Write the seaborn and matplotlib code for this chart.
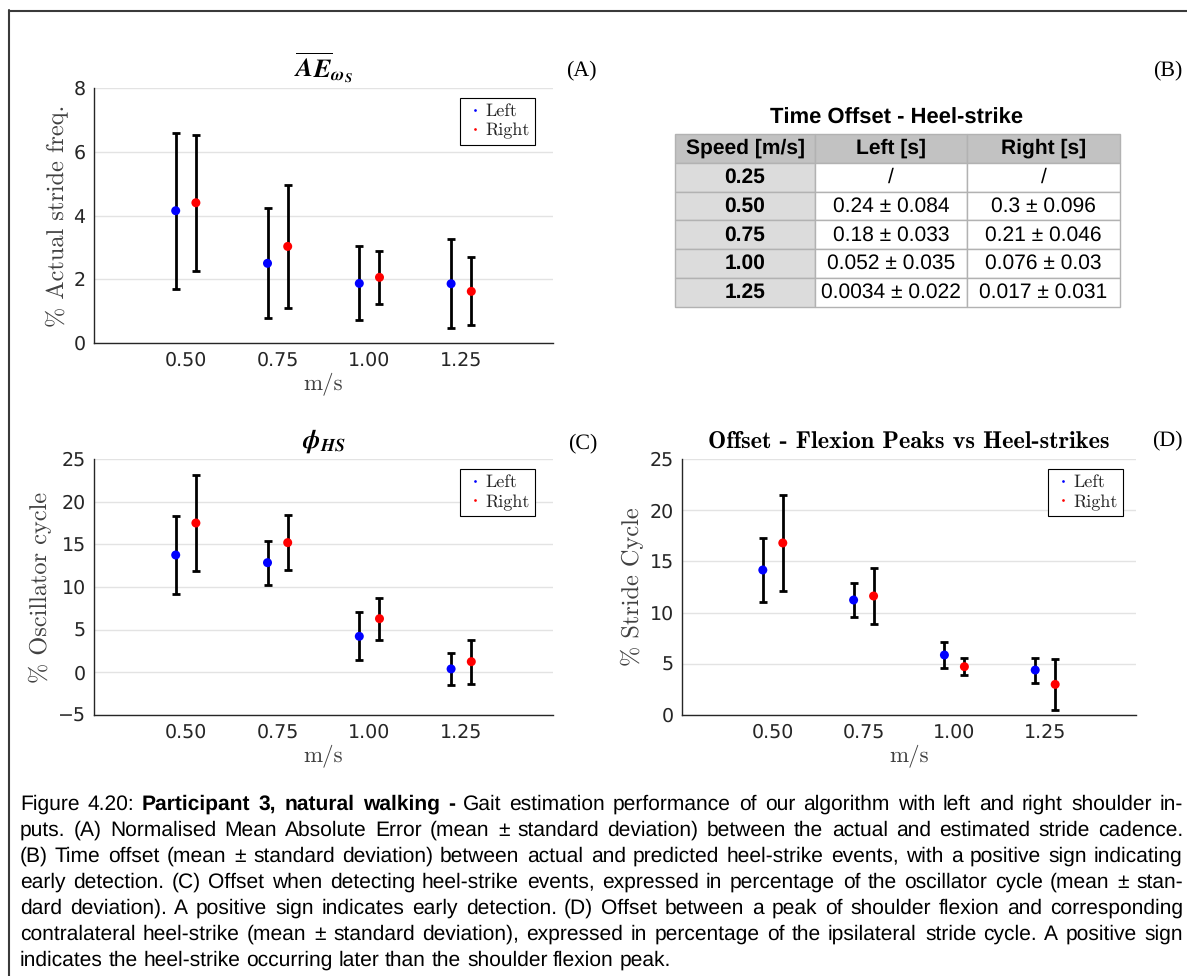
import os
import numpy as np
import pandas as pd
import matplotlib
matplotlib.use("Agg")
import matplotlib.pyplot as plt
from matplotlib import font_manager as fm
from matplotlib.lines import Line2D
import seaborn as sns

# ---- data -------------------------------------------------------------
speeds = [0.50, 0.75, 1.00, 1.25]
speed_ticks = ["0.50", "0.75", "1.00", "1.25"]

ae_left_mean = [4.15, 2.50, 1.87, 1.86]
ae_left_sd = [2.45, 1.73, 1.16, 1.40]
ae_right_mean = [4.40, 3.03, 2.06, 1.62]
ae_right_sd = [2.13, 1.94, 0.84, 1.07]

phi_left_mean = [13.75, 12.85, 4.22, 0.40]
phi_left_sd = [4.57, 2.58, 2.80, 1.90]
phi_right_mean = [17.50, 15.20, 6.29, 1.25]
phi_right_sd = [5.60, 3.25, 2.46, 2.56]

flex_left_mean = [14.16, 11.23, 5.86, 4.39]
flex_left_sd = [3.16, 1.65, 1.25, 1.22]
flex_right_mean = [16.80, 11.62, 4.72, 2.99]
flex_right_sd = [4.70, 2.75, 0.80, 2.52]

table_title = "Time Offset - Heel-strike"
table_header = ["Speed [m/s]", "Left [s]", "Right [s]"]
table_speeds = ["0.25", "0.50", "0.75", "1.00", "1.25"]
table_left = ["/", "0.24 ± 0.084", "0.18 ± 0.033", "0.052 ± 0.035", "0.0034 ± 0.022"]
table_right = ["/", "0.3 ± 0.096", "0.21 ± 0.046", "0.076 ± 0.03", "0.017 ± 0.031"]

caption_lines = [
    [("Figure 4.20: ", "normal"), ("Participant 3, natural walking -", "bold"),
     (" Gait estimation performance of our algorithm with left and right shoulder in-", "normal")],
    [("puts.  (A) Normalised Mean Absolute Error (mean ± standard deviation) between the actual and estimated stride cadence.", "normal")],
    [("(B) Time offset (mean ± standard deviation) between actual and predicted heel-strike events, with a positive sign indicating", "normal")],
    [("early detection.  (C) Offset when detecting heel-strike events, expressed in percentage of the oscillator cycle (mean ± stan-", "normal")],
    [("dard deviation).  A positive sign indicates early detection.  (D) Offset between a peak of shoulder flexion and corresponding", "normal")],
    [("contralateral heel-strike (mean ± standard deviation), expressed in percentage of the ipsilateral stride cycle.  A positive sign", "normal")],
    [("indicates the heel-strike occurring later than the shoulder flexion peak.", "normal")],
]

# ---- style ------------------------------------------------------------
sns.set_theme(style="white")
plt.rcParams["font.family"] = ["DejaVu Sans"]
plt.rcParams["text.hinting"] = "no_hinting"
plt.rcParams["text.hinting_factor"] = 1

W, H = 1187, 976
fig = plt.figure(figsize=(W / 100, H / 100), dpi=100)

TTF = os.path.join(matplotlib.get_data_path(), "fonts", "ttf")
INK = "#262626"
PALETTE = {"Left": "#0000ff", "Right": "#ff0000"}
OFF = 0.0275


def cm(size, bold=False):
    return fm.FontProperties(fname=os.path.join(TTF, "cmb10.ttf" if bold else "cmr10.ttf"), size=size)


def px_rect(left, top, right, bottom):
    return [left / W, 1 - bottom / H, (right - left) / W, (bottom - top) / H]


def panel(rect, lm, ls, rm, rs, ylim, yticks, ylabel, title, title_kw, tag, tag_xy, legend_anchor):
    ax = fig.add_axes(rect)
    df = pd.DataFrame({
        "speed": speeds * 2,
        "side": ["Left"] * len(speeds) + ["Right"] * len(speeds),
        "mean": lm + rm,
        "sd": ls + rs,
    })
    df["x"] = df["speed"] + df["side"].map({"Left": -OFF, "Right": OFF})
    ax.errorbar(df["x"], df["mean"], yerr=df["sd"], fmt="none", ecolor="black",
                elinewidth=2.0, capsize=3, capthick=2.0, zorder=2)
    sns.scatterplot(data=df, x="x", y="mean", hue="side", palette=PALETTE, s=42,
                    edgecolor="none", ax=ax, zorder=3)
    ax.set_xlim(0.25, 1.5)
    ax.set_ylim(*ylim)
    ax.set_xticks(speeds, speed_ticks)
    ax.set_yticks(yticks)
    ax.tick_params(direction="in", length=4, width=0.8, colors=INK, labelsize=14, pad=6)
    ax.yaxis.grid(True, color="#e3e3e3", lw=1)
    ax.set_axisbelow(True)
    for s in ("top", "right"):
        ax.spines[s].set_visible(False)
    for s in ("left", "bottom"):
        ax.spines[s].set_color(INK)
        ax.spines[s].set_linewidth(1.0)
    ax.set_xlabel("m/s", fontproperties=cm(16.5), color="#404040", labelpad=2)
    ax.set_ylabel(ylabel, fontproperties=cm(17.5), color="#404040", labelpad=4)
    ax.set_title(title, pad=8, **title_kw)
    ax.text(tag_xy[0], tag_xy[1], tag, transform=ax.transAxes, ha="right", va="center",
            fontfamily="Liberation Serif", fontsize=16, color="black")
    handles, labels = ax.get_legend_handles_labels()
    leg = ax.legend(handles, labels, loc="upper right", bbox_to_anchor=legend_anchor,
                    borderaxespad=0, markerscale=0.3, prop=cm(13), frameon=True,
                    fancybox=False, edgecolor="black", framealpha=1,
                    borderpad=0.3, handletextpad=0.0, handlelength=1.1, labelspacing=0.2)
    leg.get_frame().set_linewidth(0.8)
    return ax


title_math = dict(fontsize=19, math_fontfamily="stix", color="black")

axA = panel(px_rect(94, 88, 553, 343), ae_left_mean, ae_left_sd, ae_right_mean, ae_right_sd,
            (0, 8), [0, 2, 4, 6, 8], "% Actual stride freq.",
            r"$\overline{\mathbfit{AE}}_{\mathbfit{\omega_S}}$", title_math, "(A)",
            (1.096, 1.071), (0.961, 0.961))
axC = panel(px_rect(94, 459, 553, 715), phi_left_mean, phi_left_sd, phi_right_mean, phi_right_sd,
            (-5, 25), [-5, 0, 5, 10, 15, 20, 25], "% Oscillator cycle",
            r"$\mathbfit{\phi_{HS}}$", title_math, "(C)",
            (1.096, 1.063), (0.961, 0.961))
axD = panel(px_rect(682, 459, 1136, 715), flex_left_mean, flex_left_sd, flex_right_mean, flex_right_sd,
            (0, 25), [0, 5, 10, 15, 20, 25], "% Stride Cycle",
            "Offset - Flexion Peaks vs Heel-strikes",
            dict(fontproperties=cm(17.5, bold=True), color="black"), "(D)",
            (1.1035, 1.074), (0.971, 0.961))

fig.text(1182 / W, 1 - 70 / H, "(B)", ha="right", va="center",
         fontfamily="Liberation Serif", fontsize=16, color="black")

# ---- table (B) ----------------------------------------------------------
tax = fig.add_axes(px_rect(675, 134, 1120, 307))
tax.axis("off")
rows = [list(r) for r in zip(table_speeds, table_left, table_right)]
tbl = tax.table(cellText=rows, colLabels=table_header, colWidths=[140, 152, 153],
                cellLoc="center", bbox=[0, 0, 1, 1])
tbl.auto_set_font_size(False)
for (r, c), cell in tbl.get_celld().items():
    cell.set_edgecolor("#b2b2b2")
    cell.set_linewidth(1.0)
    txt = cell.get_text()
    txt.set_fontfamily("Liberation Sans")
    txt.set_fontsize(15)
    txt.set_color("black")
    if r == 0:
        cell.set_facecolor("#c2c2c2")
        txt.set_fontweight("bold")
    elif c == 0:
        cell.set_facecolor("#dcdcdc")
        txt.set_fontweight("bold")
    else:
        cell.set_facecolor("white")
fig.text(897 / W, 1 - 118 / H, table_title, ha="center", va="center",
         fontfamily="Liberation Sans", fontweight="bold", fontsize=15.8, color="black")

# ---- frame --------------------------------------------------------------
fig.add_artist(Line2D([9.5 / W, 9.5 / W], [0, 1 - 10 / H], transform=fig.transFigure,
                      color="#3a3a3a", lw=1.5))
fig.add_artist(Line2D([9 / W, 1], [1 - 10.5 / H, 1 - 10.5 / H], transform=fig.transFigure,
                      color="#3a3a3a", lw=1.5))

# ---- caption (justified) --------------------------------------------------
renderer = fig.canvas.get_renderer()
CAP_SIZE = 15.3
X0, X1 = 20, 1183


def word_width(word, weight):
    t = fig.text(0, 0, word, fontfamily="Liberation Sans", fontsize=CAP_SIZE, fontweight=weight)
    w = t.get_window_extent(renderer).width
    t.remove()
    return w


space_w = word_width("x x", "normal") - word_width("xx", "normal")
for i, segs in enumerate(caption_lines):
    words = []
    for txt, wt in segs:
        for w in txt.split(" "):
            if w:
                words.append((w, wt))
    widths = [word_width(w, wt) for w, wt in words]
    last = i == len(caption_lines) - 1
    gap = space_w if last else (X1 - X0 - sum(widths)) / (len(words) - 1)
    x = X0
    y = 1 - (810 + 26 * i) / H
    for (w, wt), ww in zip(words, widths):
        fig.text(round(x) / W, y, w, ha="left", va="baseline", fontfamily="Liberation Sans",
                 fontsize=CAP_SIZE, fontweight=wt, color="black")
        x += ww + gap

fig.savefig("out.png", dpi=100)
